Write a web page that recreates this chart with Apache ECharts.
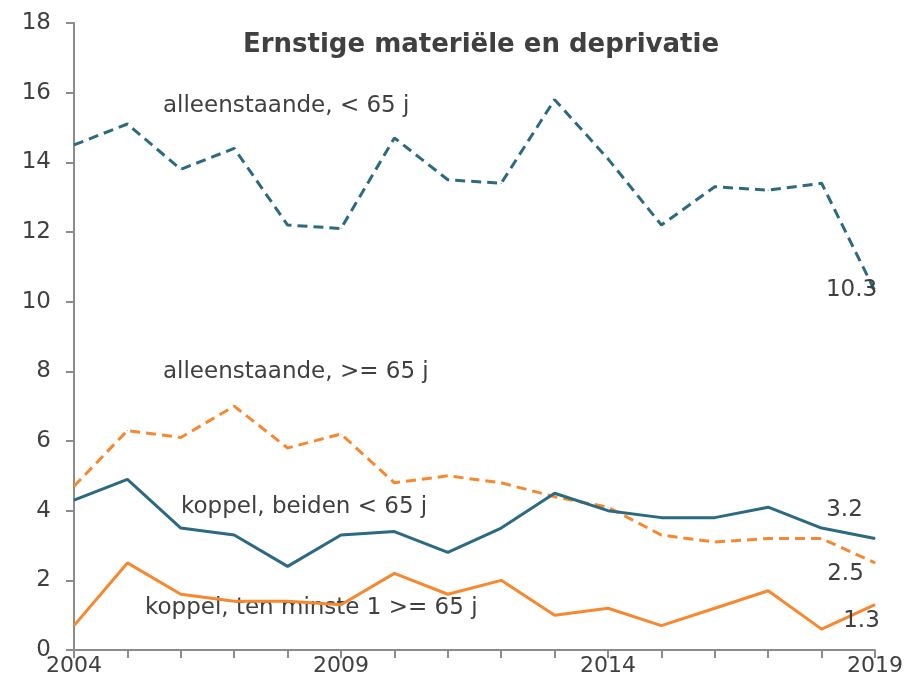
<!DOCTYPE html>
<html>
<head>
<meta charset="utf-8">
<script src="https://cdn.jsdelivr.net/npm/echarts@6/dist/echarts.min.js"></script>
<style>
  html, body { margin: 0; padding: 0; background: #fff; }
  #main { width: 921px; height: 687px; }
</style>
</head>
<body>
<div id="main"></div>
<script>
var years = ['2004','2005','2006','2007','2008','2009','2010','2011','2012','2013','2014','2015','2016','2017','2018','2019'];
var alleenOnder65 = [14.5, 15.1, 13.8, 14.4, 12.2, 12.1, 14.7, 13.5, 13.4, 15.8, 14.1, 12.2, 13.3, 13.2, 13.4, 10.3];
var alleenBoven65 = [4.7, 6.3, 6.1, 7.0, 5.8, 6.2, 4.8, 5.0, 4.8, 4.4, 4.1, 3.3, 3.1, 3.2, 3.2, 2.5];
var koppelOnder65 = [4.3, 4.9, 3.5, 3.3, 2.4, 3.3, 3.4, 2.8, 3.5, 4.5, 4.0, 3.8, 3.8, 4.1, 3.5, 3.2];
var koppelBoven65 = [0.7, 2.5, 1.6, 1.4, 1.4, 1.3, 2.2, 1.6, 2.0, 1.0, 1.2, 0.7, 1.2, 1.7, 0.6, 1.3];

var teal = '#2b6a80';
var orange = '#f7882f';
var textColor = '#404040';
var fontFam = '"DejaVu Sans", sans-serif';

// alleen de laatste waarde krijgt een label
function withEndLabel(values, pos) {
    return values.map(function (v, i) {
        if (i < values.length - 1) return v;
        return {
            value: v,
            label: {
                show: true,
                position: pos,
                align: 'center',
                verticalAlign: 'middle',
                color: textColor,
                fontSize: 23,
                fontFamily: fontFam
            }
        };
    });
}

function lineSeries(name, values, color, dashed, pos) {
    return {
        name: name,
        type: 'line',
        data: withEndLabel(values, pos),
        symbol: 'circle',
        symbolSize: 1,
        showSymbol: true,
        lineStyle: { color: color, width: 3, type: dashed ? [10, 6] : 'solid' },
        itemStyle: { color: color },
        labelLayout: { hideOverlap: false },
        animation: false
    };
}

var myChart = echarts.init(document.getElementById('main'));

var option = {
    backgroundColor: '#fff',
    title: {
        text: 'Ernstige materiële en deprivatie',
        left: 476,
        top: 27,
        textAlign: 'center',
        textStyle: { color: textColor, fontSize: 26, fontWeight: 'bold', fontFamily: fontFam }
    },
    grid: { left: 74, right: 46, top: 23, bottom: 37 },
    xAxis: {
        type: 'category',
        data: years,
        boundaryGap: false,
        axisLine: { lineStyle: { color: '#8c8c8c', width: 2 } },
        axisTick: { show: true, interval: 0, length: 8, lineStyle: { color: '#8c8c8c', width: 2 } },
        axisLabel: { interval: 4, color: textColor, fontSize: 22, fontFamily: fontFam, margin: 5 }
    },
    yAxis: {
        type: 'value',
        min: 0,
        max: 18,
        interval: 2,
        splitLine: { show: false },
        axisLine: { show: true, lineStyle: { color: '#8c8c8c', width: 2 } },
        axisTick: { show: true, length: 8, lineStyle: { color: '#8c8c8c', width: 2 } },
        axisLabel: { color: textColor, fontSize: 23, fontFamily: fontFam, margin: 23 }
    },
    graphic: [
        { type: 'text', left: 163, top: 95, style: { text: 'alleenstaande, < 65 j', fill: textColor, font: '23px ' + fontFam } },
        { type: 'text', left: 163, top: 361, style: { text: 'alleenstaande, >= 65 j', fill: textColor, font: '23px ' + fontFam } },
        { type: 'text', left: 181, top: 496, style: { text: 'koppel, beiden < 65 j', fill: textColor, font: '23px ' + fontFam } },
        { type: 'text', left: 145, top: 597, style: { text: 'koppel, ten minste 1 >= 65 j', fill: textColor, font: '23px ' + fontFam } }
    ],
    series: [
        lineSeries('alleenstaande, < 65 j', alleenOnder65, teal, true, [-23, -1]),
        lineSeries('alleenstaande, >= 65 j', alleenBoven65, orange, true, [-29, 12]),
        lineSeries('koppel, beiden < 65 j', koppelOnder65, teal, false, [-30, -28]),
        lineSeries('koppel, ten minste 1 >= 65 j', koppelBoven65, orange, false, [-13, 17])
    ]
};

myChart.setOption(option);
</script>
</body>
</html>
